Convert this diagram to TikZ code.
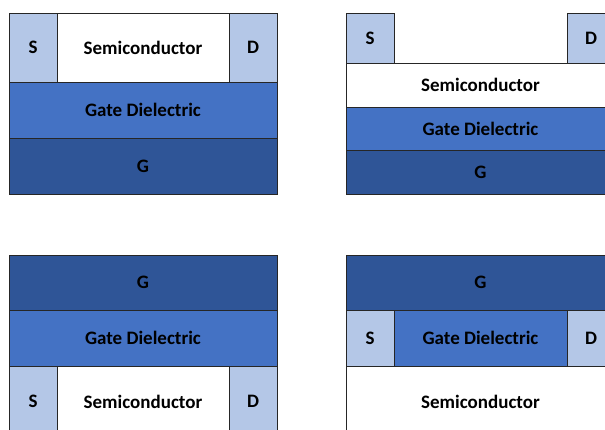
\documentclass[tikz,border=0pt]{standalone}
\usepackage{fontspec}
\setmainfont{Carlito}
\definecolor{sdcol}{HTML}{B4C7E7}
\definecolor{gdcol}{HTML}{4472C4}
\definecolor{gcol}{HTML}{2F5597}
\definecolor{edge}{HTML}{262626}
\begin{document}
\begin{tikzpicture}[x=1pt,y=-1pt,
  layer/.style={draw=edge,line width=0.9pt,inner sep=0pt,outer sep=0pt,
    font=\fontsize{19}{22}\selectfont\bfseries,text=black},
  sd/.style={layer,fill=sdcol},
  semi/.style={layer,fill=white},
  gd/.style={layer,fill=gdcol},
  gate/.style={layer,fill=gcol}]
\useasboundingbox (0,0) rectangle (605,430);
\clip (0,0) rectangle (605,430);
\fill[white] (0,0) rectangle (605,430);
% top-left
\node[semi,fit/.style={},minimum width=172pt,minimum height=69pt,anchor=north west] (tlSemi) at (57,13) {Semiconductor};
\node[sd,minimum width=48pt,minimum height=69pt,anchor=north west] (tlS) at (9,13) {S};
\node[sd,minimum width=48pt,minimum height=69pt,anchor=north west] (tlD) at (229,13) {D};
\node[gd,minimum width=268pt,minimum height=56pt,anchor=north west] (tlGD) at (9,82) {Gate Dielectric};
\node[gate,minimum width=268pt,minimum height=56pt,anchor=north west] (tlG) at (9,138) {G};
% top-right
\node[sd,minimum width=48pt,minimum height=50pt,anchor=north west] (trS) at (346,13) {S};
\node[sd,minimum width=48pt,minimum height=50pt,anchor=north west] (trD) at (567,13) {D};
\node[semi,minimum width=269pt,minimum height=44pt,anchor=north west] (trSemi) at (346,63) {Semiconductor};
\node[gd,minimum width=269pt,minimum height=43pt,anchor=north west] (trGD) at (346,107) {Gate Dielectric};
\node[gate,minimum width=269pt,minimum height=44pt,anchor=north west] (trG) at (346,150) {G};
% bottom-left
\node[gate,minimum width=268pt,minimum height=55pt,anchor=north west] (blG) at (9,255) {G};
\node[gd,minimum width=268pt,minimum height=56pt,anchor=north west] (blGD) at (9,310) {Gate Dielectric};
\node[semi,minimum width=172pt,minimum height=71pt,anchor=north west] (blSemi) at (57,366) {Semiconductor};
\node[sd,minimum width=48pt,minimum height=71pt,anchor=north west] (blS) at (9,366) {S};
\node[sd,minimum width=48pt,minimum height=71pt,anchor=north west] (blD) at (229,366) {D};
% bottom-right
\node[gate,minimum width=269pt,minimum height=55pt,anchor=north west] (brG) at (346,255) {G};
\node[sd,minimum width=48pt,minimum height=56pt,anchor=north west] (brS) at (346,310) {S};
\node[gd,minimum width=173pt,minimum height=56pt,anchor=north west] (brGD) at (394,310) {Gate Dielectric};
\node[sd,minimum width=48pt,minimum height=56pt,anchor=north west] (brD) at (567,310) {D};
\node[semi,minimum width=269pt,minimum height=71pt,anchor=north west] (brSemi) at (346,366) {Semiconductor};
\end{tikzpicture}
\end{document}
